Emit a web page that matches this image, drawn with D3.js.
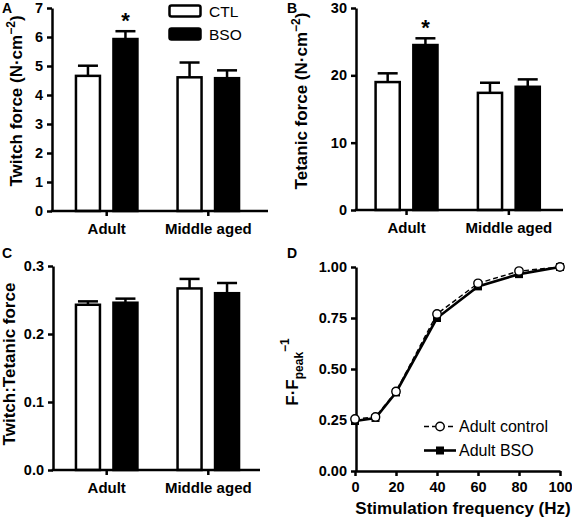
<!DOCTYPE html>
<html><head><meta charset="utf-8">
<script src="https://cdn.jsdelivr.net/npm/d3@7"></script>
<style>
html,body{margin:0;padding:0;background:#fff;}
svg{display:block;font-family:"Liberation Sans",Arial,sans-serif;}
</style></head>
<body><svg id="c" width="572" height="523"></svg>
<script>
// ---------- DATA ----------
const groups = ["Adult", "Middle aged"];
const seriesNames = ["CTL", "BSO"];

const twitchCTL = [4.66, 4.61];
const twitchCTLErr = [0.35, 0.51];
const twitchBSO = [5.93, 4.58];
const twitchBSOErr = [0.27, 0.27];

const tetanicCTL = [19.0, 17.4];
const tetanicCTLErr = [1.3, 1.5];
const tetanicBSO = [24.5, 18.3];
const tetanicBSOErr = [1.0, 1.1];

const ratioCTL = [0.243, 0.267];
const ratioCTLErr = [0.005, 0.014];
const ratioBSO = [0.246, 0.260];
const ratioBSOErr = [0.006, 0.015];

const twitchTicks = [0, 1, 2, 3, 4, 5, 6, 7];
const tetanicTicks = [0, 10, 20, 30];
const ratioTicks = [0, 0.1, 0.2, 0.3];

const freq = [0, 10, 20, 40, 60, 80, 100];
const ffControl = [0.255, 0.265, 0.39, 0.77, 0.92, 0.98, 1.0];
const ffBSO = [0.245, 0.26, 0.385, 0.75, 0.905, 0.965, 1.0];
const freqTicks = [0, 20, 40, 60, 80, 100];
const ffTicks = [0, 0.25, 0.5, 0.75, 1.0];
const lineLegend = ["Adult control", "Adult BSO"];

// ---------- DRAW ----------
const svg = d3.select("#c");
const SW = 2.5;

function yAxisDraw(g, y, ticks, fmt, x0) {
  const ax = g.append("g").attr("transform", `translate(${x0},0)`)
    .call(d3.axisLeft(y).tickValues(ticks).tickFormat(fmt).tickSize(5).tickPadding(4).tickSizeOuter(0));
  ax.select(".domain").attr("stroke-width", SW).attr("stroke", "#000");
  ax.selectAll(".tick line").attr("stroke-width", SW).attr("stroke", "#000");
  ax.selectAll(".tick text").attr("font-size", 14.5).attr("font-weight", "bold").attr("fill", "#000");
}

function barPanel(o) {
  const g = svg.append("g");
  const y = d3.scaleLinear().domain(o.yDomain).range([o.yBottom, o.yTop]);
  const xg = d3.scaleBand().domain(groups).range(o.xRange).paddingInner(0).paddingOuter(0);
  const xs = d3.scaleBand().domain(seriesNames).range([0, xg.bandwidth()]).paddingInner(0.36).paddingOuter(0.535);
  const vals = {CTL: o.ctl, BSO: o.bso};
  const errs = {CTL: o.ctlErr, BSO: o.bsoErr};
  const bw = xs.bandwidth();
  seriesNames.forEach(s => {
    groups.forEach((grp, i) => {
      const v = vals[s][i], e = errs[s][i];
      const cx = xg(grp) + xs(s) + bw / 2;
      g.append("line").attr("x1", cx).attr("x2", cx).attr("y1", y(v)).attr("y2", y(v + e))
        .attr("stroke", "#000").attr("stroke-width", SW);
      g.append("line").attr("x1", cx - 10).attr("x2", cx + 10).attr("y1", y(v + e)).attr("y2", y(v + e))
        .attr("stroke", "#000").attr("stroke-width", SW);
      g.append("rect").attr("x", xg(grp) + xs(s)).attr("width", bw)
        .attr("y", y(v)).attr("height", y(0) - y(v))
        .attr("fill", s === "CTL" ? "#fff" : "#000").attr("stroke", "#000").attr("stroke-width", SW);
    });
  });
  g.append("line").attr("x1", o.xAxis0 - SW / 2).attr("x2", o.xAxis1).attr("y1", y(0)).attr("y2", y(0))
    .attr("stroke", "#000").attr("stroke-width", SW);
  const xa = g.append("g").attr("transform", `translate(0,${y(0)})`)
    .call(d3.axisBottom(xg).tickSize(5).tickPadding(7).tickSizeOuter(0));
  xa.select(".domain").remove();
  xa.selectAll(".tick line").attr("stroke-width", SW).attr("stroke", "#000");
  xa.selectAll(".tick text").attr("font-size", 15).attr("font-weight", "bold").attr("fill", "#000");
  yAxisDraw(g, y, o.ticks, o.fmt, o.xAxis0);
  if (o.star) {
    o.star.forEach((flag, i) => {
      if (!flag) return;
      const cx = xg(groups[i]) + xs("BSO") + bw / 2;
      g.append("text").attr("x", cx).attr("y", y(o.bso[i] + o.bsoErr[i]) - 3)
        .attr("text-anchor", "middle").attr("font-size", 22).attr("font-weight", "bold").text("*");
    });
  }
  const t = g.append("text").attr("transform", `translate(${o.titleX},${o.titleY}) rotate(-90)`)
    .attr("text-anchor", "middle").attr("font-size", 17).attr("font-weight", "bold");
  t.append("tspan").text(o.title);
  if (o.sup) {
    t.append("tspan").attr("dy", -7).attr("font-size", 12).text(o.sup);
    t.append("tspan").attr("dy", 7).text(")");
  }
  return {g, y, xg};
}

// Panel A
barPanel({yDomain: [0, 7], yBottom: 211, yTop: 8, xRange: [55.9, 259.1], xAxis0: 52, xAxis1: 268,
  ctl: twitchCTL, bso: twitchBSO, ctlErr: twitchCTLErr, bsoErr: twitchBSOErr,
  ticks: twitchTicks, fmt: d3.format("d"), star: [true, false],
  title: "Twitch force (N·cm", sup: "−2", titleX: 22, titleY: 101});
// Panel B
barPanel({yDomain: [0, 30], yBottom: 210, yTop: 8, xRange: [355.4, 560], xAxis0: 356, xAxis1: 563,
  ctl: tetanicCTL, bso: tetanicBSO, ctlErr: tetanicCTLErr, bsoErr: tetanicBSOErr,
  ticks: tetanicTicks, fmt: d3.format("d"), star: [true, false],
  title: "Tetanic force (N·cm", sup: "−2", titleX: 307, titleY: 101});
// Panel C
barPanel({yDomain: [0, 0.3], yBottom: 470, yTop: 266, xRange: [55.9, 259.1], xAxis0: 53, xAxis1: 260,
  ctl: ratioCTL, bso: ratioBSO, ctlErr: ratioCTLErr, bsoErr: ratioBSOErr,
  ticks: ratioTicks, fmt: d3.format(".1f"), star: null,
  title: "Twitch:Tetanic force", sup: null, titleX: 15, titleY: 364});

// Legend for bars (in panel A)
const legA = svg.append("g");
seriesNames.forEach((s, i) => {
  legA.append("rect").attr("x", 169.5).attr("y", 5.5 + i * 23).attr("width", 31).attr("height", 11).attr("rx", 2)
    .attr("fill", s === "CTL" ? "#fff" : "#000").attr("stroke", "#000").attr("stroke-width", SW);
  legA.append("text").attr("x", 209).attr("y", 11 + i * 23).attr("dy", "0.36em")
    .attr("font-size", 15.5).text(s);
});

// Panel D
const gD = svg.append("g");
const xD = d3.scaleLinear().domain([0, 100]).range([355, 560]);
const yD = d3.scaleLinear().domain([0, 1]).range([471, 267]);
const xaD = gD.append("g").attr("transform", `translate(0,471)`)
  .call(d3.axisBottom(xD).tickValues(freqTicks).tickSize(5).tickPadding(6).tickSizeOuter(0));
xaD.select(".domain").attr("stroke-width", SW).attr("stroke", "#000");
xaD.selectAll(".tick line").attr("stroke-width", SW).attr("stroke", "#000");
xaD.selectAll(".tick text").attr("font-size", 14.5).attr("font-weight", "bold").attr("fill", "#000");
yAxisDraw(gD, yD, ffTicks, d3.format(".2f"), 356);

const lineGen = d3.line().x((d, i) => xD(freq[i])).y(d => yD(d));
gD.append("path").datum(ffBSO).attr("d", lineGen).attr("fill", "none").attr("stroke", "#000").attr("stroke-width", 2.6);
gD.append("path").datum(ffControl).attr("d", lineGen).attr("fill", "none").attr("stroke", "#000")
  .attr("stroke-width", 1.4).attr("stroke-dasharray", "5,3");
gD.selectAll(".sq").data(ffBSO).enter().append("rect")
  .attr("x", (d, i) => xD(freq[i]) - 4).attr("y", d => yD(d) - 4).attr("width", 8).attr("height", 8).attr("fill", "#000");
gD.selectAll(".ci").data(ffControl).enter().append("circle")
  .attr("cx", (d, i) => xD(freq[i])).attr("cy", d => yD(d)).attr("r", 4.2)
  .attr("fill", "#fff").attr("stroke", "#000").attr("stroke-width", 1.4);

// D legend
const legD = gD.append("g");
[0, 1].forEach(i => {
  const ly = 426.5 + i * 24;
  legD.append("line").attr("x1", 424).attr("x2", 456).attr("y1", ly).attr("y2", ly)
    .attr("stroke", "#000").attr("stroke-width", i === 0 ? 1.4 : 2.6).attr("stroke-dasharray", i === 0 ? "5,3" : null);
  if (i === 0) legD.append("circle").attr("cx", 440).attr("cy", ly).attr("r", 4.2).attr("fill", "#fff").attr("stroke", "#000").attr("stroke-width", 1.4);
  else legD.append("rect").attr("x", 436).attr("y", ly - 4).attr("width", 8).attr("height", 8).attr("fill", "#000");
  legD.append("text").attr("x", 459).attr("y", ly).attr("dy", "0.36em").attr("font-size", 16).text(lineLegend[i]);
});

gD.append("text").attr("x", 463).attr("y", 514).attr("text-anchor", "middle")
  .attr("font-size", 17).attr("font-weight", "bold").text("Stimulation frequency (Hz)");
const tD = gD.append("text").attr("transform", `translate(298,372) rotate(-90)`)
  .attr("text-anchor", "middle").attr("font-size", 17).attr("font-weight", "bold");
tD.append("tspan").text("F·F");
tD.append("tspan").attr("dy", 5).attr("font-size", 12).text("peak");
tD.append("tspan").attr("dy", -14).attr("font-size", 12).text("−1");

// Panel letters
[["A", 2, 13], ["B", 287, 13], ["C", 2, 258], ["D", 287, 258]].forEach(([l, x, y]) => {
  svg.append("text").attr("x", x).attr("y", y).attr("font-size", 14).attr("font-weight", "bold").text(l);
});
</script></body></html>
